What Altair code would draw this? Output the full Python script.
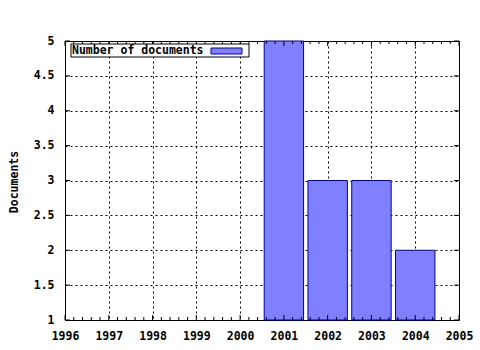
import altair as alt
import pandas as pd

# ---- data ----
years = [2001, 2002, 2003, 2004]
docs = [5, 3, 3, 2]
x_ticks = [1996, 1997, 1998, 1999, 2000, 2001, 2002, 2003, 2004, 2005]
y_ticks = [1, 1.5, 2, 2.5, 3, 3.5, 4, 4.5, 5]
legend_label = "Number of documents"
y_title = "Documents"
bar_width = 0.9

W, H = 394, 279
FONT = "DejaVu Sans Mono"
FS = 11.5
FILL = "#8080ff"
EDGE = "#0000a0"

df = pd.DataFrame({"year": years, "docs": docs})
df["start"] = df["year"] - bar_width / 2
df["end"] = df["year"] + bar_width / 2

minor = [round(x_ticks[0] + i * 0.2, 1) for i in range(int((x_ticks[-1] - x_ticks[0]) * 5) + 1)]
minor = [m for m in minor if abs(m - round(m)) > 1e-6]

xs = alt.Scale(domain=[x_ticks[0], x_ticks[-1]], nice=False, zero=False)
ys = alt.Scale(domain=[y_ticks[0], y_ticks[-1]], nice=False, zero=False)

label_style = dict(labelFont=FONT, labelFontSize=FS, labelFontWeight="bold",
                   labelColor="black", labelFlush=False, labelOverlap=False)

xaxis = alt.Axis(values=x_ticks, format="d", title=None, grid=True,
                 gridDash=[2, 3], gridColor="black", gridOpacity=1,
                 ticks=False, tickSize=0, domain=False, labelPadding=10,
                 **label_style)
yaxis = alt.Axis(values=y_ticks, format="~g", title=y_title, grid=True,
                 gridDash=[2, 3], gridColor="black", gridOpacity=1,
                 ticks=False, tickSize=0, domain=False, labelPadding=11,
                 titleFont=FONT, titleFontSize=FS, titleFontWeight="bold",
                 titleColor="black", titleX=-51, titleY=H / 2 + 1,
                 titleBaseline="middle", titleAngle=270,
                 **label_style)

bars = alt.Chart(df).mark_bar(fill=FILL, stroke=EDGE, strokeWidth=1).encode(
    x=alt.X("start:Q", scale=xs, axis=xaxis),
    x2="end:Q",
    y=alt.Y("docs:Q", scale=ys, axis=yaxis),
    y2=alt.datum(y_ticks[0]),
)

xmaj = pd.DataFrame({"t": x_ticks})
xmin = pd.DataFrame({"t": minor})
ymaj = pd.DataFrame({"t": y_ticks})

def xtick(data, length, bottom=True):
    y0 = H if bottom else 0
    y1 = H - length if bottom else length
    return alt.Chart(data).mark_rule(color="black", strokeWidth=1).encode(
        x=alt.X("t:Q", scale=xs, axis=xaxis), y=alt.value(y0), y2=alt.value(y1))

def ytick(data, length, left=True):
    x0 = 0 if left else W
    x1 = length if left else W - length
    return alt.Chart(data).mark_rule(color="black", strokeWidth=1).encode(
        y=alt.Y("t:Q", scale=ys, axis=yaxis), x=alt.value(x0), x2=alt.value(x1))

one = pd.DataFrame({"k": [0]})
leg_box = alt.Chart(one).mark_rect(fill="white", stroke="black", strokeWidth=1).encode(
    x=alt.value(6), x2=alt.value(184), y=alt.value(3), y2=alt.value(16))
leg_sym = alt.Chart(one).mark_rect(fill=FILL, stroke=EDGE, strokeWidth=1).encode(
    x=alt.value(146), x2=alt.value(177), y=alt.value(7), y2=alt.value(13))
leg_txt = alt.Chart(one).mark_text(align="left", baseline="middle", font=FONT,
                                   fontSize=FS, fontWeight="bold", color="black").encode(
    x=alt.value(7), y=alt.value(10), text=alt.value(legend_label))

chart = alt.layer(
    bars,
    xtick(xmaj, 5, True), xtick(xmaj, 5, False),
    xtick(xmin, 3, True), xtick(xmin, 3, False),
    ytick(ymaj, 5, True), ytick(ymaj, 5, False),
    leg_box, leg_sym, leg_txt,
).properties(
    width=W, height=H,
    autosize=alt.AutoSizeParams(type="none"),
    padding={"left": 65, "top": 41, "right": 21, "bottom": 30},
    background="white",
).configure_view(stroke="black", strokeWidth=1)

chart.save("out.html", embed_options={"renderer": "svg", "actions": False})
